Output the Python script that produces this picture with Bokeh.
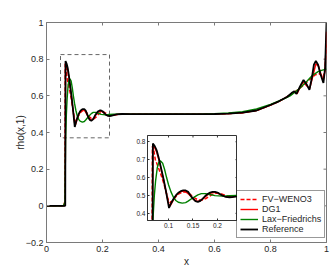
from bokeh.plotting import figure
from bokeh.models import Range1d, FixedTicker, Legend, LegendItem
from bokeh.embed import file_html
from bokeh.resources import INLINE

# ---------------- data ----------------
ref_x = [0.0, 0.067, 0.068, 0.072, 0.076, 0.080, 0.085, 0.090, 0.095, 0.099,
         0.101, 0.105, 0.110, 0.115, 0.120, 0.125, 0.130, 0.135, 0.140, 0.145,
         0.150, 0.155, 0.160, 0.165, 0.170, 0.175, 0.180, 0.185, 0.190, 0.195,
         0.200, 0.205, 0.210, 0.215, 0.220, 0.225, 0.230, 0.240, 0.250, 0.270,
         0.300, 0.400, 0.500, 0.550, 0.600, 0.650, 0.700, 0.750, 0.800, 0.830,
         0.860, 0.875, 0.885, 0.893, 0.905, 0.918, 0.930, 0.939, 0.948, 0.955,
         0.962, 0.970, 0.978, 0.989, 0.995, 1.0]
ref_y = [0.0, 0.0, 0.79, 0.775, 0.75, 0.71, 0.65, 0.59, 0.52, 0.46,
         0.43, 0.455, 0.48, 0.50, 0.515, 0.524, 0.528, 0.528, 0.52, 0.50,
         0.482, 0.468, 0.464, 0.47, 0.482, 0.497, 0.508, 0.516, 0.52, 0.52,
         0.516, 0.508, 0.50, 0.494, 0.491, 0.49, 0.491, 0.495, 0.499, 0.501,
         0.5, 0.5, 0.5, 0.5, 0.501, 0.503, 0.508, 0.52, 0.55, 0.57,
         0.595, 0.615, 0.625, 0.61, 0.65, 0.687, 0.66, 0.633, 0.70, 0.77,
         0.79, 0.77, 0.72, 0.67, 0.75, 1.0]

dg1_x = [0.0, 0.064, 0.067, 0.068, 0.072, 0.076, 0.080, 0.085, 0.090, 0.095,
         0.100, 0.103, 0.107, 0.112, 0.118, 0.124, 0.130, 0.136, 0.142, 0.148,
         0.154, 0.160, 0.166, 0.172, 0.178, 0.184, 0.190, 0.196, 0.202, 0.208,
         0.214, 0.220, 0.228, 0.240, 0.260, 0.300, 0.500, 0.550, 0.600, 0.650,
         0.700, 0.750, 0.800, 0.830, 0.860, 0.875, 0.885, 0.895, 0.905, 0.917,
         0.929, 0.940, 0.950, 0.962, 0.972, 0.980, 0.988, 0.995, 1.0]
dg1_y = [0.0, 0.0, 0.02, 0.775, 0.765, 0.74, 0.70, 0.645, 0.585, 0.52,
         0.455, 0.44, 0.46, 0.485, 0.508, 0.52, 0.524, 0.52, 0.505, 0.487,
         0.472, 0.467, 0.472, 0.485, 0.5, 0.51, 0.516, 0.516, 0.51, 0.502,
         0.495, 0.492, 0.492, 0.496, 0.5, 0.5, 0.5, 0.5, 0.501, 0.503,
         0.508, 0.52, 0.55, 0.57, 0.595, 0.612, 0.62, 0.612, 0.645, 0.675,
         0.655, 0.64, 0.70, 0.775, 0.76, 0.72, 0.68, 0.74, 0.95]

weno_x = [0.0, 0.062, 0.066, 0.067, 0.070, 0.073, 0.078, 0.084, 0.090, 0.096,
          0.100, 0.104, 0.108, 0.114, 0.120, 0.127, 0.134, 0.141, 0.148, 0.155,
          0.162, 0.169, 0.176, 0.183, 0.190, 0.197, 0.204, 0.211, 0.218, 0.226,
          0.240, 0.260, 0.300, 0.500, 0.550, 0.600, 0.650, 0.700, 0.750, 0.800,
          0.830, 0.860, 0.880, 0.900, 0.920, 0.940, 0.960, 0.975, 0.988, 0.995,
          1.0]
weno_y = [0.0, 0.0, 0.03, 0.775, 0.75, 0.70, 0.665, 0.62, 0.57, 0.51,
          0.47, 0.46, 0.47, 0.49, 0.507, 0.517, 0.52, 0.513, 0.498, 0.483,
          0.474, 0.474, 0.482, 0.495, 0.506, 0.512, 0.512, 0.506, 0.499, 0.494,
          0.495, 0.5, 0.5, 0.5, 0.5, 0.501, 0.503, 0.508, 0.52, 0.55,
          0.57, 0.595, 0.615, 0.635, 0.66, 0.69, 0.715, 0.72, 0.70, 0.75,
          0.88]

lf_x = [0.0, 0.060, 0.066, 0.068, 0.071, 0.0735, 0.077, 0.080, 0.0837, 0.088,
        0.092, 0.096, 0.100, 0.105, 0.110, 0.115, 0.120, 0.128, 0.135, 0.140,
        0.150, 0.160, 0.167, 0.175, 0.185, 0.195, 0.210, 0.225, 0.240, 0.300,
        0.500, 0.550, 0.600, 0.650, 0.700, 0.750, 0.800, 0.850, 0.870, 0.900,
        0.930, 0.950, 0.970, 0.985, 1.0]
lf_y = [0.0, 0.0, 0.02, 0.36, 0.50, 0.58, 0.655, 0.685, 0.693, 0.68,
        0.645, 0.60, 0.56, 0.52, 0.49, 0.472, 0.462, 0.457, 0.46, 0.468,
        0.487, 0.503, 0.51, 0.51, 0.505, 0.499, 0.496, 0.498, 0.5, 0.5,
        0.5, 0.5, 0.502, 0.506, 0.513, 0.528, 0.553, 0.585, 0.60, 0.635,
        0.68, 0.712, 0.732, 0.74, 0.745]

series_names = ["FV\u2212WENO3", "DG1", "Lax\u2212Friedrichs", "Reference"]

x_ticks = [0, 0.2, 0.4, 0.6, 0.8, 1.0]
x_tick_labels = ["0", "0.2", "0.4", "0.6", "0.8", "1"]
y_ticks = [-0.2, 0, 0.2, 0.4, 0.6, 0.8, 1.0]
y_tick_labels = ["\u22120.2", "0", "0.2", "0.4", "0.6", "0.8", "1"]

inset_x_ticks = [0.1, 0.15, 0.2]
inset_x_tick_labels = ["0.1", "0.15", "0.2"]
inset_y_ticks = [0.4, 0.5, 0.6, 0.7, 0.8]
inset_y_tick_labels = ["0.4", "0.5", "0.6", "0.7", "0.8"]

zoom_box_x = [0.05, 0.225]
zoom_box_y = [0.371, 0.825]

main_x_range = (0, 1)
main_y_range = (-0.2, 1)
inset_x_range = (0.057, 0.241)
inset_y_range = (0.36, 0.835)

# ---------------- styling ----------------
FONT = "Liberation Sans"
AX = "#7a7a7a"
TXT = "#262626"


def style_axis(ax, ticks, labels, size="9px", color=AX):
    ax.ticker = FixedTicker(ticks=ticks)
    ax.axis_line_color = color
    ax.major_tick_line_color = color
    ax.major_tick_in = 3
    ax.major_tick_out = 0
    ax.minor_tick_line_color = None
    ax.major_label_overrides = dict(zip(ticks, labels))
    ax.major_label_text_font = FONT
    ax.major_label_text_font_size = size
    ax.major_label_text_color = TXT
    ax.major_label_standoff = 3


def mirror_ticks(fig, xt, yt, xr, yr, color, size):
    # tick marks on the top and right edges of the box (clipped to the frame)
    fig.scatter(xt, [yr[1]] * len(xt), marker="dash", angle=1.5708,
                size=size, line_color=color, line_width=1)
    fig.scatter([xr[1]] * len(yt), yt, marker="dash",
                size=size, line_color=color, line_width=1)


p = figure(frame_width=280, frame_height=220,
           x_range=Range1d(*main_x_range), y_range=Range1d(*main_y_range),
           output_backend="svg", toolbar_location=None,
           min_border_left=46, min_border_right=4,
           min_border_top=22, min_border_bottom=24)
p.grid.visible = False
p.outline_line_color = AX
p.background_fill_color = "white"
p.border_fill_color = "white"

style_axis(p.xaxis[0], x_ticks, x_tick_labels)
style_axis(p.yaxis[0], y_ticks, y_tick_labels)
p.xaxis.axis_label = "x"
p.yaxis.axis_label = "rho(x,1)"
for ax in (p.xaxis[0], p.yaxis[0]):
    ax.axis_label_text_font = FONT
    ax.axis_label_text_font_size = "10px"
    ax.axis_label_text_font_style = "normal"
    ax.axis_label_text_color = TXT
p.xaxis[0].axis_label_standoff = 1
p.yaxis[0].axis_label_standoff = -3

mirror_ticks(p, x_ticks, y_ticks, main_x_range, main_y_range, AX, 6)

p.quad(left=[zoom_box_x[0]], right=[zoom_box_x[1]],
       bottom=[zoom_box_y[0]], top=[zoom_box_y[1]],
       fill_alpha=0, line_color="#666666", line_width=1, line_dash="4 3")


def draw(fig):
    r1 = fig.line(weno_x, weno_y, line_color="#ff0000", line_width=1.5, line_dash="4 2")
    r2 = fig.line(dg1_x, dg1_y, line_color="#ff0000", line_width=1.4)
    r3 = fig.line(lf_x, lf_y, line_color="#008000", line_width=1.4)
    r4 = fig.line(ref_x, ref_y, line_color="#000000", line_width=1.8)
    return [r1, r2, r3, r4]


rs = draw(p)

legend = Legend(items=[LegendItem(label=n, renderers=[r]) for n, r in zip(series_names, rs)],
                location=(190, 4))
legend.border_line_color = "#333333"
legend.border_line_width = 1
legend.background_fill_color = "white"
legend.background_fill_alpha = 1
legend.padding = 3
legend.spacing = 0
legend.margin = 0
legend.label_text_font = FONT
legend.label_text_font_size = "9px"
legend.label_text_color = TXT
legend.label_height = 10
legend.glyph_height = 10
legend.glyph_width = 18
legend.label_standoff = 4
p.add_layout(legend)

# ---------------- inset ----------------
inset = figure(frame_width=90, frame_height=85,
               x_range=Range1d(*inset_x_range), y_range=Range1d(*inset_y_range),
               output_backend="svg", toolbar_location=None,
               min_border_left=14, min_border_right=0,
               min_border_top=0, min_border_bottom=12)
inset.title = None
inset.grid.visible = False
inset.border_fill_color = None
inset.background_fill_color = "white"
inset.outline_line_color = "#333333"
style_axis(inset.xaxis[0], inset_x_ticks, inset_x_tick_labels, size="6.5px", color="#333333")
style_axis(inset.yaxis[0], inset_y_ticks, inset_y_tick_labels, size="6.5px", color="#333333")
for ax in (inset.xaxis[0], inset.yaxis[0]):
    ax.major_label_standoff = 2
    ax.major_tick_in = 2
mirror_ticks(inset, inset_x_ticks, inset_y_ticks, inset_x_range, inset_y_range, "#333333", 4)
draw(inset)

inset.styles = {"position": "absolute", "left": "133px", "top": "135px"}

open("out.html", "w").write(file_html([p, inset], INLINE))
